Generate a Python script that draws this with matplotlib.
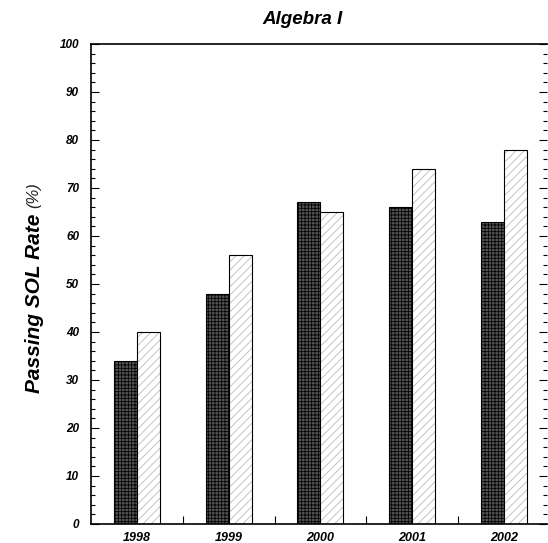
import numpy as np
import matplotlib
matplotlib.use("Agg")
import matplotlib.pyplot as plt
from matplotlib.ticker import MultipleLocator, FixedLocator

plt.rcParams['font.family'] = ['Liberation Sans', 'DejaVu Sans']
plt.rcParams['hatch.linewidth'] = 0.6

years = ['1998', '1999', '2000', '2001', '2002']
school = [34, 48, 67, 66, 63]   # dark cross-hatched bars
state = [40, 56, 65, 74, 78]    # light diagonal bars

fig = plt.figure(figsize=(5.48, 5.43), dpi=100)
ax = fig.add_axes([91/548, 19/543, 456/548, 480/543])

x = np.arange(len(years))
w = 0.25
plt.rcParams['hatch.color'] = 'black'
ax.bar(x - w/2, school, w, color='#555555', edgecolor='black', hatch='+++++', linewidth=0.8)
b2 = ax.bar(x + w/2, state, w, color='white', edgecolor='#bbbbbb', hatch='////', linewidth=0)
ax.bar(x + w/2, state, w, color='none', edgecolor='black', linewidth=0.8)

ax.set_xlim(-0.5, 4.47)
ax.set_ylim(0, 100)

ax.set_xticks(x)
ax.set_xticklabels(years, fontsize=9, fontweight='bold', fontstyle='italic')
ax.tick_params(axis='x', which='major', length=0, pad=6)
ax.xaxis.set_minor_locator(FixedLocator(x[:-1] + 0.5))
ax.tick_params(axis='x', which='minor', direction='in', length=6, width=0.8)

ax.yaxis.set_major_locator(MultipleLocator(10))
ax.yaxis.set_minor_locator(MultipleLocator(2))
ax.tick_params(axis='y', which='major', direction='in', length=6, width=0.8,
               right=True, pad=8.5, labelsize=8.5)
ax.tick_params(axis='y', which='minor', direction='in', length=3, width=0.8, right=True)
for lab in ax.get_yticklabels():
    lab.set_fontweight('bold')
    lab.set_fontstyle('italic')

ax.spines['right'].set_visible(False)
for s in ['left', 'top', 'bottom']:
    ax.spines[s].set_linewidth(1.2)

fig.text(303/548, 1 - 20/543, 'Algebra I', fontsize=13.5, fontweight='bold',
         fontstyle='italic', ha='center', va='center')

fig.text(35/548, 1 - 303/543, 'Passing SOL Rate', rotation=90, fontsize=15,
         fontweight='bold', fontstyle='italic', ha='center', va='center')
fig.text(34/548, 1 - 195/543, '(%)', rotation=90, fontsize=12,
         fontstyle='italic', ha='center', va='center', color='#222222')

fig.savefig('out.png', dpi=100)
